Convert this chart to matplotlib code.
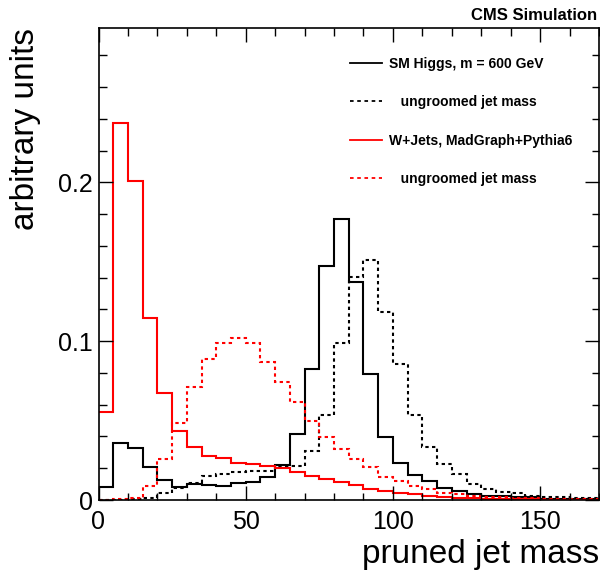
import numpy as np
import matplotlib
matplotlib.use("Agg")
import matplotlib.pyplot as plt
from matplotlib.ticker import MultipleLocator, FuncFormatter
from matplotlib.lines import Line2D

plt.rcParams['font.family'] = ['Liberation Sans', 'DejaVu Sans']

# bin edges (pruned jet mass, GeV)
bin_edges = np.arange(0, 175, 5)

higgs_pruned = [0.0084, 0.0361, 0.0330, 0.0210, 0.0128, 0.0084, 0.0100, 0.0092,
                0.0091, 0.0105, 0.0115, 0.0147, 0.0223, 0.0413, 0.0825, 0.1476,
                0.1768, 0.1371, 0.0794, 0.0398, 0.0236, 0.0157, 0.0121, 0.0076,
                0.0059, 0.0036, 0.0027, 0.0025, 0.0021, 0.0021, 0.0008, 0.0008,
                0.0006, 0.0006]
higgs_ungroomed = [0.0, 0.0, 0.0008, 0.0010, 0.0046, 0.0075, 0.0105, 0.0150,
                   0.0164, 0.0179, 0.0180, 0.0185, 0.0213, 0.0213, 0.0311, 0.0535,
                   0.0990, 0.1406, 0.1511, 0.1185, 0.0857, 0.0536, 0.0332, 0.0227,
                   0.0162, 0.0098, 0.0068, 0.0053, 0.0046, 0.0027, 0.0017, 0.0017,
                   0.0015, 0.0011]
wjets_pruned = [0.0556, 0.2376, 0.2009, 0.1148, 0.0676, 0.0435, 0.0332, 0.0279,
                0.0262, 0.0235, 0.0227, 0.0217, 0.0200, 0.0175, 0.0150, 0.0132,
                0.0113, 0.0094, 0.0072, 0.0057, 0.0045, 0.0037, 0.0023, 0.0017,
                0.0015, 0.0011, 0.0009, 0.0006, 0.0005, 0.0004, 0.0003, 0.0003,
                0.0002, 0.0002]
wjets_ungroomed = [0.0003, 0.0004, 0.0010, 0.0088, 0.0256, 0.0483, 0.0714, 0.0890,
                   0.0987, 0.1023, 0.0987, 0.0870, 0.0741, 0.0614, 0.0500, 0.0399,
                   0.0321, 0.0256, 0.0210, 0.0147, 0.0118, 0.0089, 0.0070, 0.0046,
                   0.0036, 0.0027, 0.0021, 0.0017, 0.0013, 0.0011, 0.0008, 0.0006,
                   0.0005, 0.0004]

labels = ["SM Higgs, m = 600 GeV", "   ungroomed jet mass",
          "W+Jets, MadGraph+Pythia6", "   ungroomed jet mass"]

fig = plt.figure(figsize=(6, 5.75), dpi=100)
ax = fig.add_axes([98.5/600, 75/575, 500.5/600, 471.7/575])

lw = 1.5
dash = (0, (1.6, 1.6))
ax.stairs(higgs_pruned, bin_edges, color='black', lw=lw, baseline=None)
ax.stairs(higgs_ungroomed, bin_edges, color='black', lw=lw, linestyle=dash, baseline=None)
ax.stairs(wjets_pruned, bin_edges, color='#ff0000', lw=lw, baseline=None)
ax.stairs(wjets_ungroomed, bin_edges, color='#ff0000', lw=lw, linestyle=dash, baseline=None)

ax.set_xlim(0, 170)
ax.set_ylim(0, 0.297)

ax.xaxis.set_major_locator(MultipleLocator(50))
ax.xaxis.set_minor_locator(MultipleLocator(10))
ax.yaxis.set_major_locator(MultipleLocator(0.1))
ax.yaxis.set_minor_locator(MultipleLocator(0.02))
ax.yaxis.set_major_formatter(FuncFormatter(lambda v, p: f"{v:g}"))
ax.xaxis.set_major_formatter(FuncFormatter(lambda v, p: f"{v:g}"))

ax.tick_params(which='both', direction='in', top=True, right=True, width=1.0)
ax.tick_params(which='major', length=10)
ax.tick_params(which='minor', length=5.4)
ax.tick_params(axis='x', which='major', labelsize=18, pad=7.5)
ax.tick_params(axis='y', which='major', labelsize=18, pad=3.8)
for s in ax.spines.values():
    s.set_linewidth(1.2)

ax.set_xlabel("pruned jet mass", fontsize=24, loc='right')
ax.xaxis.set_label_coords(1.0, -0.083)
ax.set_ylabel("arbitrary units", fontsize=24, loc='top')
ax.yaxis.set_label_coords(-0.115, 1.0)

handles = [Line2D([], [], color='black', lw=1.3),
           Line2D([], [], color='black', lw=1.3, linestyle=(0, (2, 2))),
           Line2D([], [], color='#ff0000', lw=1.3),
           Line2D([], [], color='#ff0000', lw=1.3, linestyle=(0, (2, 2)))]
ax.legend(handles, labels, loc='upper left',
          bbox_to_anchor=(350/600, 1 - 57/575), bbox_transform=fig.transFigure,
          frameon=False, borderpad=0, borderaxespad=0,
          handlelength=2.3, handletextpad=0.5, labelspacing=1.75,
          prop={'size': 10, 'weight': 'bold'})

fig.text(597/600, 1 - 15/575, "CMS Simulation", ha='right', va='center',
         fontsize=12, fontweight='bold')

fig.savefig("out.png", dpi=100)
